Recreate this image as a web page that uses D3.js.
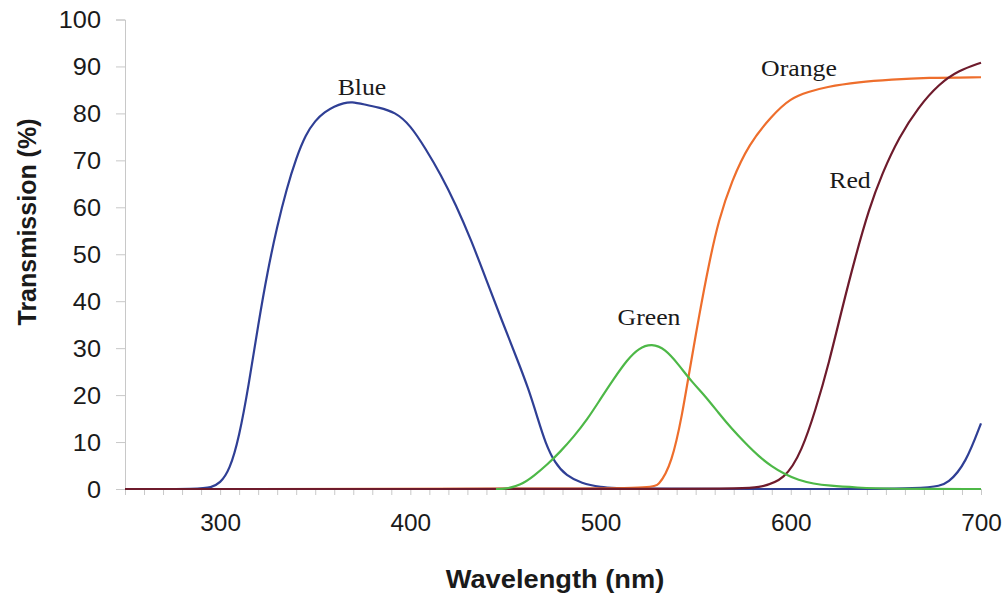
<!DOCTYPE html>
<html>
<head>
<meta charset="utf-8">
<script src="https://cdn.jsdelivr.net/npm/d3@7.9.0/dist/d3.min.js"></script>
<style>
  body { margin: 0; background: #fff; }
  .tick text { font-family: "Liberation Sans", Arial, sans-serif; font-size: 23px; fill: #1a1a1a; }
  .axis-title { font-family: "Liberation Sans", Arial, sans-serif; font-size: 25px; font-weight: bold; fill: #1a1a1a; }
  .series-label { font-family: "Liberation Serif", "Times New Roman", serif; font-size: 23px; fill: #1a1a1a; }
</style>
</head>
<body>
<svg id="chart" width="1008" height="593"></svg>
<script>
// wavelengths (nm) and transmission (%)
const blueNm  = [250, 290, 295, 300, 305, 310, 315, 320, 325, 330, 335, 340, 345, 350, 355, 360, 365, 369, 376, 383, 392, 400, 408, 416, 424, 432, 440, 448, 456, 462, 467, 471, 476, 482, 490, 500, 510, 600, 675, 683, 692, 700];
const blueVal = [0, 0, 0.3, 1.2, 4, 11, 22, 35, 46.5, 56, 64, 70.5, 75.5, 78.5, 80.3, 81.5, 82.2, 82.5, 81.9, 81.3, 80.3, 77.5, 72.5, 67, 60.5, 53, 44.5, 36, 27.8, 21.5, 15, 9.8, 5.5, 2.8, 1.2, 0.4, 0, 0, 0, 1.2, 5.5, 14];

const orangeNm  = [250, 525, 530.5, 537.5, 543, 546.5, 552, 557, 562, 569, 578, 590, 600, 609.5, 618, 636, 653, 671, 700];
const orangeVal = [0, 0, 0.5, 5.5, 16, 24.6, 37.4, 48, 57.2, 65.7, 73.5, 79.5, 83.3, 84.6, 85.6, 86.7, 87.2, 87.6, 87.7];

const redNm  = [250, 570, 583, 597, 606, 613, 620, 627, 634, 641, 648, 657, 667, 678, 688, 700];
const redVal = [0, 0, 0.2, 1.9, 8.3, 16.8, 26.7, 38.5, 49.5, 59.5, 67.2, 75, 81.3, 86.3, 89.1, 90.8];

const greenNm  = [445, 450, 458, 465, 472, 479, 486, 493, 500, 507, 514, 520, 527, 534, 541, 548, 555, 562, 569, 576, 583, 590, 597, 604, 612, 620, 635, 650, 700];
const greenVal = [0, 0, 0.8, 2.8, 5.2, 8, 11.2, 14.8, 19.2, 23.5, 27.5, 30, 31, 29.8, 26.5, 22.8, 19.8, 16.2, 12.8, 9.8, 7, 4.8, 3.1, 1.9, 1.1, 0.7, 0.3, 0, 0];

const xTickLabels = [300, 400, 500, 600, 700];
const yTickLabels = [0, 10, 20, 30, 40, 50, 60, 70, 80, 90, 100];

const series = [
  { name: 'Blue',   nm: blueNm,   val: blueVal,   color: '#2f3f95', lx: 362, ly: 95 },
  { name: 'Orange', nm: orangeNm, val: orangeVal, color: '#ee6e2c', lx: 799, ly: 76 },
  { name: 'Red',    nm: redNm,    val: redVal,    color: '#6e1b2c', lx: 850, ly: 188 },
  { name: 'Green',  nm: greenNm,  val: greenVal,  color: '#4db847', lx: 649, ly: 325 },
];

const svg = d3.select('#chart');
const x = d3.scaleLinear().domain([250, 700]).range([125, 981]);
const y = d3.scaleLinear().domain([0, 100]).range([489, 19.5]);

// the reference text is a little wider than the fonts we have
function stretch(sel, k) {
  sel.each(function () {
    const w = this.getComputedTextLength();
    if (w > 0) {
      d3.select(this).attr('textLength', w * k).attr('lengthAdjust', 'spacingAndGlyphs');
    }
  });
}

// y axis
const yAxis = svg.append('g')
  .attr('transform', `translate(${x(250)},0)`)
  .call(d3.axisLeft(y).tickValues(yTickLabels).tickSize(9).tickPadding(15));
yAxis.selectAll('line, path').attr('stroke', '#c8c8c8');
yAxis.selectAll('text').attr('dy', '0.36em').call(stretch, 1.1);

// x axis: minor ticks every 10 nm, labels at the hundreds
const xAxis = svg.append('g')
  .attr('transform', `translate(0,${y(0)})`)
  .call(d3.axisBottom(x).tickValues(d3.range(250, 701, 10)).tickSize(6).tickPadding(29)
    .tickFormat((d) => (xTickLabels.includes(d) ? d : '')));
xAxis.selectAll('line, path').attr('stroke', '#c8c8c8');
xAxis.selectAll('text').attr('dy', '0.3em').call(stretch, 1.06);

const line = d3.line()
  .x((d) => x(d[0]))
  .y((d) => y(d[1]))
  .curve(d3.curveBasis);

series.forEach((s) => {
  svg.append('path')
    .datum(s.nm.map((n, i) => [n, s.val[i]]))
    .attr('d', line)
    .attr('fill', 'none')
    .attr('stroke', s.color)
    .attr('stroke-width', 2.2);
  svg.append('text')
    .attr('class', 'series-label')
    .attr('x', s.lx)
    .attr('y', s.ly)
    .attr('text-anchor', 'middle')
    .text(s.name)
    .call(stretch, 1.12);
});

svg.append('text')
  .attr('class', 'axis-title')
  .attr('x', 555)
  .attr('y', 588)
  .attr('text-anchor', 'middle')
  .text('Wavelength (nm)')
  .call(stretch, 1.09);

svg.append('text')
  .attr('class', 'axis-title')
  .attr('transform', 'translate(36,222) rotate(-90)')
  .attr('text-anchor', 'middle')
  .text('Transmission (%)');
</script>
</body>
</html>
